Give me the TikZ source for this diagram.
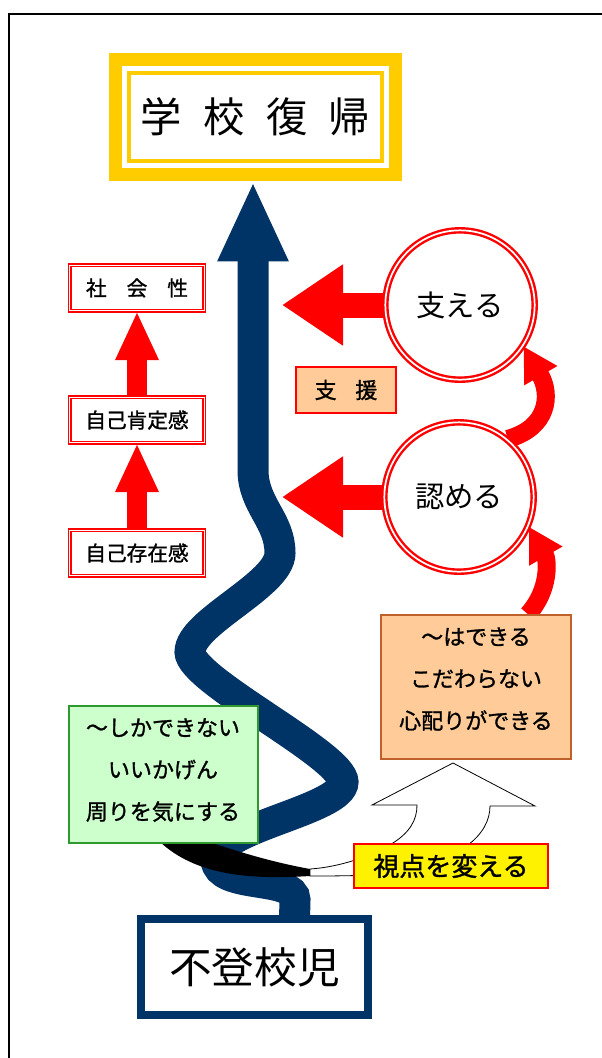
\documentclass[tikz,border=0pt]{standalone}
\usepackage{fontspec}
\setmainfont{Noto Sans CJK JP}
\newfontfamily\heavy{Noto Sans CJK JP}[FakeBold=1.2]
\usetikzlibrary{arrows.meta}
\definecolor{navy}{HTML}{003366}
\definecolor{gold}{HTML}{FFCC00}
\definecolor{mint}{HTML}{CCFFCC}
\definecolor{peach}{HTML}{FFCC99}
\definecolor{brick}{HTML}{C0602A}
\definecolor{leaf}{HTML}{2E9A2E}
\pgfdeclarelayer{bg}
\pgfdeclarelayer{mid}
\pgfsetlayers{bg,mid,main}
\begin{document}
\begin{tikzpicture}[x=0.75pt,y=-0.75pt,
  ringnode/.style={circle, draw=red, line width=1.8pt, double=white, double distance=1.3pt, fill=white, minimum size=112pt, inner sep=0pt, font=\fontsize{22pt}{26pt}\selectfont},
  dbox/.style={rectangle, draw=red, line width=0.8pt, double=white, double distance=1.2pt, fill=white, minimum width=101pt, minimum height=34pt, inner sep=0pt, font=\heavy\fontsize{15.5pt}{18pt}\selectfont},
  plainbox/.style={rectangle, line width=1.1pt, inner sep=0pt},
  uparrow/.style={draw=red, line width=15pt, -{Triangle[length=36.75pt,width=30pt]}},
  leftarrow/.style={draw=red, line width=18.75pt, -{Triangle[length=45.75pt,width=57.75pt]}},
  curvearrow/.style={draw=red, line width=13.5pt, -{Triangle[length=25.5pt,width=27pt]}},
  roadarrow/.style={draw=navy, line width=23.25pt, -{Triangle[length=60pt,width=48.75pt]}},
  midtext/.style={align=center, font=\heavy\fontsize{16.5pt}{31.5pt}\selectfont}
]
\useasboundingbox (0,0) rectangle (602,1058);

% ---- nodes ----
\node[fill=gold, minimum width=219.75pt, minimum height=96pt, inner sep=0pt] (goal) at (255.5,117) {};
\fill[white] ([shift={(13,13)}]goal.north west) rectangle ([shift={(-13,-13)}]goal.south east);
\fill[gold] ([shift={(18,18)}]goal.north west) rectangle ([shift={(-18,-18)}]goal.south east);
\fill[white] ([shift={(22,22)}]goal.north west) rectangle ([shift={(-22,-22)}]goal.south east);
\node[font=\fontsize{31pt}{36pt}\selectfont] (goaltext) at (goal.center) {学\hspace{16pt}校\hspace{16pt}復\hspace{16pt}帰};

\node[dbox] (shakai) at (137,288) {社\hspace{15pt}会\hspace{15pt}性};
\node[dbox] (kotei) at (137,420) {自己肯定感};
\node[dbox] (sonzai) at (137,553) {自己存在感};

\node[ringnode] (sasaeru) at (460,305) {支える};
\node[ringnode] (mitomeru) at (459,497) {認める};

\node[plainbox, draw=red, fill=peach, minimum width=75pt, minimum height=34.5pt, font=\heavy\fontsize{16.5pt}{20pt}\selectfont] (shien) at (346,390) {支\hspace{14pt}援};

\node[plainbox, draw=brick, fill=peach, minimum width=142.5pt, minimum height=108pt] (kawaru) at (476,687) {};
\node[midtext] (kawarutext) at (476,679) {～はできる\\こだわらない\\心配りができる};

\node[plainbox, draw=leaf, fill=mint, minimum width=141.75pt, minimum height=102.75pt] (mae) at (163.5,774.5) {};
\node[midtext] (maetext) at (163,770) {～しかできない\\いいかげん\\周りを気にする};

\node[plainbox, draw=red, fill=yellow, minimum width=145.5pt, minimum height=33pt, font=\heavy\fontsize{19.5pt}{23pt}\selectfont] (shiten) at (451,866) {視点を変える};

\node[draw=navy, line width=6pt, fill=white, minimum width=170.25pt, minimum height=72pt, inner sep=0pt, font=\fontsize{32pt}{38pt}\selectfont] (futoko) at (254.5,967) {不登校児};

% ---- background ----
\begin{pgfonlayer}{bg}
\fill[white] (0,0) rectangle (602,1058);
\draw[line width=1.5pt] (9,1060) -- (9,14) -- (603,14);
\end{pgfonlayer}

% ---- connectors ----
\begin{pgfonlayer}{mid}
\coordinate (tipA) at (282,305);
\coordinate (tipB) at (282,497);
\coordinate (w) at (253,470);
\draw[leftarrow] (sasaeru.center) -- (tipA);
\draw[leftarrow] (mitomeru.center) -- (tipB);
\draw[uparrow] (kotei.north) -- (shakai.south);
\draw[uparrow] (sonzai.north) -- (kotei.south);
\draw[curvearrow] (mitomeru.50) .. controls (548,428) and (552,395) .. (sasaeru.-33);
\draw[curvearrow] ([xshift=39pt]kawaru.north) .. controls (550,590) and (548,560) .. (mitomeru.-23);

\draw[roadarrow] ([xshift=30pt,yshift=-3pt]futoko.north) -- (295,900)
  .. controls (295,875) and (218,890) .. (216,860)
  .. controls (214,828) and (343,810) .. (343,782)
  .. controls (343,755) and (190,680) .. (190,652)
  .. controls (190,622) and (280,585) .. (280,553)
  .. controls (280,520) and (253,505) .. (w) -- (w |- goal.south);

\fill[black] (150,822) .. controls (205,840) and (250,858) .. (310,869) -- (310,876)
  .. controls (245,880) and (195,874) .. (160,842) -- cycle;

\filldraw[fill=white, draw=black, line width=0.6pt] (310,869)
  .. controls (340,867) and (372,856) .. (393,843)
  .. controls (410,832) and (417,820) .. (417,805) -- (372,805) -- (453,763) -- (535,806) -- (490,806)
  .. controls (490,835) and (460,860) .. (400,872)
  .. controls (380,875) and (360,876) .. (310,876) -- cycle;
\end{pgfonlayer}
\end{tikzpicture}
\end{document}
